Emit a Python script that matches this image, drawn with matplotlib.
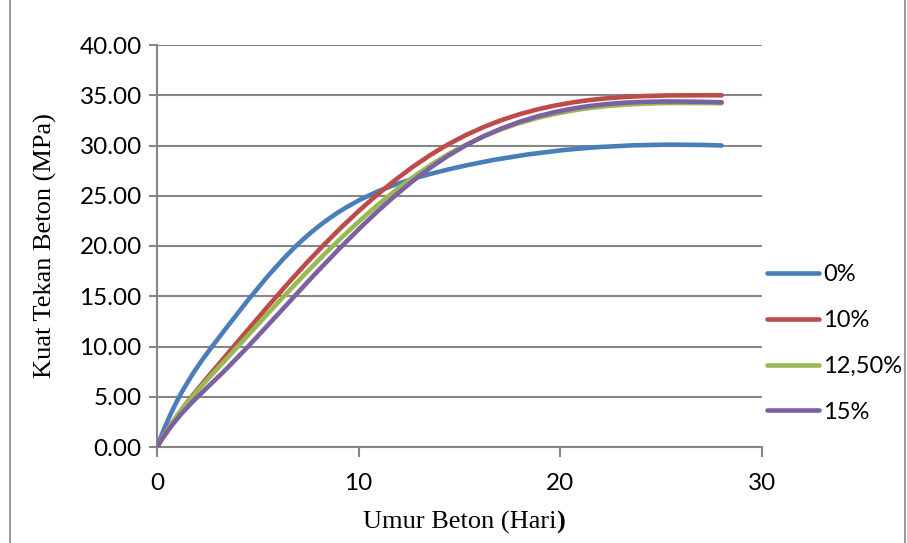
import numpy as np
import matplotlib
matplotlib.use("Agg")
import matplotlib.pyplot as plt
from matplotlib.path import Path
from matplotlib.patches import PathPatch
from matplotlib.lines import Line2D

# Data (umur beton in hari, kuat tekan in MPa)
days = [0, 1, 3, 7, 14, 21, 28]
kuat_0 = [0.0, 4.6, 10.7, 20.2, 27.4, 29.7, 30.0]
kuat_10 = [0.0, 3.1, 8.1, 17.4, 29.6, 34.4, 35.0]
kuat_125 = [0.0, 3.1, 7.8, 16.5, 28.6, 33.6, 34.2]
kuat_15 = [0.0, 2.8, 6.9, 15.4, 28.4, 33.8, 34.3]
labels = ["0%", "10%", "12,50%", "15%"]
colors = ["#4A7EBB", "#BE4B48", "#98B954", "#7D60A0"]

grid_col = "#868686"


def spline_slopes(x, y):
    # cubic spline (not-a-knot ends), returns first derivative at each point
    n = len(x)
    h = np.diff(x)
    A = np.zeros((n, n))
    r = np.zeros(n)
    A[0, :3] = [h[1], -(h[0] + h[1]), h[0]]
    A[-1, -3:] = [h[-1], -(h[-2] + h[-1]), h[-2]]
    for i in range(1, n - 1):
        A[i, i - 1] = h[i - 1]
        A[i, i] = 2 * (h[i - 1] + h[i])
        A[i, i + 1] = h[i]
        r[i] = 6 * ((y[i + 1] - y[i]) / h[i] - (y[i] - y[i - 1]) / h[i - 1])
    M = np.linalg.solve(A, r)
    m = np.zeros(n)
    for i in range(n - 1):
        m[i] = (y[i + 1] - y[i]) / h[i] - h[i] * (2 * M[i] + M[i + 1]) / 6
    m[-1] = (y[-1] - y[-2]) / h[-1] + h[-1] * (M[-2] + 2 * M[-1]) / 6
    return m


def smooth_path(xs, ys):
    x = np.asarray(xs, float)
    y = np.asarray(ys, float)
    m = spline_slopes(x, y)
    verts = [(x[0], y[0])]
    codes = [Path.MOVETO]
    for i in range(len(x) - 1):
        h = x[i + 1] - x[i]
        verts += [(x[i] + h / 3, y[i] + m[i] * h / 3),
                  (x[i + 1] - h / 3, y[i + 1] - m[i + 1] * h / 3),
                  (x[i + 1], y[i + 1])]
        codes += [Path.CURVE4] * 3
    return Path(verts, codes)


fig = plt.figure(figsize=(9.07, 5.43), dpi=100)
ax = fig.add_axes([157 / 907, 96 / 543, 605 / 907, 402 / 543])

for ys, lab, c in zip([kuat_0, kuat_10, kuat_125, kuat_15], labels, colors):
    patch = PathPatch(smooth_path(days, ys), fill=False, edgecolor=c, lw=3.3,
                      capstyle="round", joinstyle="round", zorder=3)
    ax.add_patch(patch)

ax.set_xlim(0, 30)
ax.set_ylim(0, 40)
ax.set_xticks([0, 10, 20, 30])
ax.set_yticks(np.arange(0, 41, 5))
ax.set_yticklabels([f"{v:.2f}" for v in np.arange(0, 41, 5)])
ax.yaxis.grid(True, color=grid_col, lw=1.5)
ax.set_axisbelow(True)

for s in ["top", "right"]:
    ax.spines[s].set_visible(False)
for s in ["left", "bottom"]:
    ax.spines[s].set_color(grid_col)
    ax.spines[s].set_linewidth(1.5)

ax.tick_params(axis="both", colors=grid_col, width=1.5, labelcolor="black",
               labelsize=17.5)
ax.tick_params(axis="y", length=6, pad=5)
ax.tick_params(axis="x", length=7, pad=12)
for lbl in ax.get_xticklabels() + ax.get_yticklabels():
    lbl.set_fontfamily("Lato")

ax.set_ylabel("Kuat Tekan Beton (MPa)", family="Liberation Serif", fontsize=19)
ax.yaxis.set_label_coords(-0.165, 0.5)

# x-axis title with the bold closing bracket as in the original
t = ax.text(0.5, -0.187, "Umur Beton (Hari", transform=ax.transAxes,
            family="Liberation Serif", fontsize=19, ha="center", va="center")
ax.annotate(")", xy=(1, 0), xycoords=t, va="bottom", ha="left",
            family="Liberation Serif", fontsize=19, fontweight="bold")

handles = [Line2D([], [], color=c, lw=3.3, solid_capstyle="round") for c in colors]
leg = ax.legend(handles, labels, loc="center left", bbox_to_anchor=(1.008, 0.2575),
                frameon=False, borderpad=0, borderaxespad=0, handlelength=2.2,
                handletextpad=0.2, labelspacing=1.05,
                prop={"family": "Lato", "size": 17})

# outer chart border
fig.add_artist(Line2D([10 / 907, 10 / 907], [0, 1], color=grid_col, lw=1.2,
                      transform=fig.transFigure))
fig.add_artist(Line2D([905 / 907, 905 / 907], [0, 1], color=grid_col, lw=1.2,
                      transform=fig.transFigure))

fig.savefig("out.png", dpi=100)
